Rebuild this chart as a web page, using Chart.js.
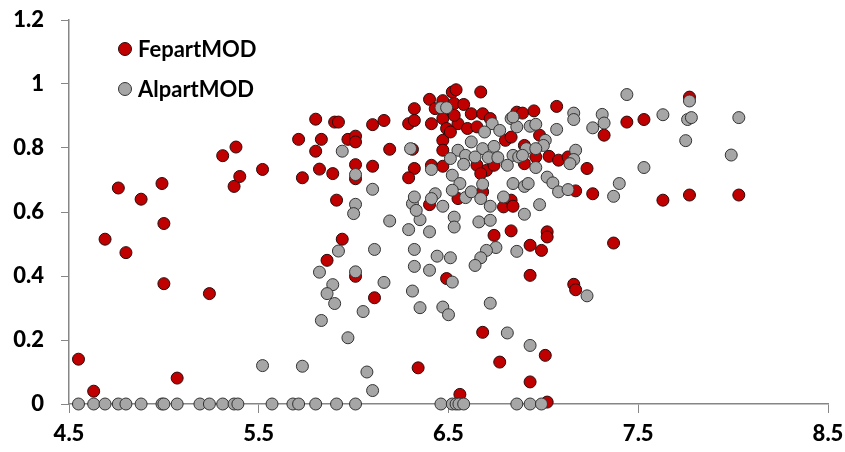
<!DOCTYPE html>
<html>
<head>
<meta charset="utf-8">
<script src="https://cdn.jsdelivr.net/npm/chart.js@4.4.0/dist/chart.umd.min.js"></script>
<style>
  html, body { margin: 0; padding: 0; background: #fff; }
  #wrap { width: 845px; height: 452px; }
</style>
</head>
<body>
<div id="wrap"><canvas id="myChart" width="845" height="452"></canvas></div>
<script>
// pH on x, partition fraction on y
var xTicks = [4.5, 5.5, 6.5, 7.5, 8.5];
var yTicks = [0, 0.2, 0.4, 0.6, 0.8, 1, 1.2];

var fePh = [
  4.55, 4.63, 4.69, 4.76, 4.80, 4.88, 4.99, 5.00, 5.00, 5.07, 5.24, 5.31, 5.38, 5.37, 5.40, 5.52,
  5.71, 5.73, 5.80, 5.80, 5.83, 5.82, 5.89, 5.90, 5.92, 5.97, 6.01, 6.01, 6.01, 6.01, 6.10, 6.16,
  6.10, 6.19, 5.91, 5.94, 6.29, 6.32, 6.32, 6.31, 6.32, 6.29, 6.40, 6.40,
  5.86, 6.01, 6.11, 6.34,
  6.52, 6.54, 6.67, 6.41, 6.43, 6.47, 6.48, 6.53, 6.58, 6.62, 6.47, 6.49, 6.55, 6.53, 6.60, 6.65,
  6.68, 6.72, 6.47, 6.51, 6.80, 6.47, 6.41, 6.47, 6.65, 6.70, 6.74, 6.86,
  6.55, 6.68, 6.79, 6.83, 6.74, 6.83, 6.49, 6.67,
  6.68, 6.77, 6.56,
  7.07, 6.89, 6.95, 6.83, 6.90, 6.98, 7.03, 7.08, 6.90, 6.96, 7.23, 7.32, 7.13,
  6.84, 7.02, 7.02, 6.93, 6.99, 7.17, 7.26, 7.37, 6.93, 7.16, 7.17,
  7.01, 6.93, 7.02,
  7.77, 7.44, 7.53, 7.63, 7.77, 8.03
];
var fePart = [
  0.14, 0.04, 0.515, 0.675, 0.473, 0.64, 0.689, 0.564, 0.376, 0.081, 0.345, 0.776, 0.803, 0.68, 0.711, 0.733,
  0.827, 0.707, 0.89, 0.79, 0.827, 0.734, 0.72, 0.881, 0.881, 0.827, 0.837, 0.819, 0.748, 0.704, 0.873, 0.886,
  0.743, 0.796, 0.637, 0.515, 0.876, 0.923, 0.886, 0.796, 0.736, 0.707, 0.952, 0.623,
  0.449, 0.399, 0.332, 0.113,
  0.975, 0.982, 0.975, 0.876, 0.923, 0.948, 0.918, 0.939, 0.936, 0.907, 0.892, 0.861, 0.876, 0.902, 0.861, 0.866,
  0.907, 0.892, 0.824, 0.85, 0.824, 0.793, 0.746, 0.743, 0.746, 0.73, 0.746, 0.912,
  0.642, 0.663, 0.616, 0.637, 0.527, 0.541, 0.392, 0.72,
  0.224, 0.131, 0.03,
  0.93, 0.909, 0.916, 0.834, 0.808, 0.84, 0.774, 0.762, 0.751, 0.772, 0.736, 0.84, 0.772,
  0.618, 0.538, 0.522, 0.496, 0.48, 0.666, 0.657, 0.503, 0.402, 0.374, 0.357,
  0.152, 0.069, 0.006,
  0.959, 0.881, 0.889, 0.637, 0.653, 0.653
];

var alPh = [
  4.55, 4.63, 4.69, 4.76, 4.80, 4.88, 4.99, 5.00, 5.07, 5.19, 5.24, 5.31, 5.37, 5.39, 5.57, 5.68,
  5.71, 5.80, 5.91, 6.01, 6.46, 6.52, 6.54, 6.555, 6.58, 6.86, 6.93, 6.99,
  5.52, 5.73, 5.94, 6.01, 6.10, 6.01, 6.00, 6.19, 6.31, 6.32, 6.35, 6.29, 6.40, 6.30,
  5.92, 5.82, 5.89, 5.86, 5.90, 5.83, 5.97, 6.01, 6.11, 6.16, 6.05, 6.32, 6.32, 6.40, 6.31, 6.35, 6.07, 6.10,
  6.46, 6.49, 6.83, 6.86, 6.73, 6.77, 6.69, 6.62, 6.55, 6.68, 6.74, 6.51, 6.59, 6.64, 6.71, 6.76,
  6.84, 6.41, 6.52, 6.58, 6.81, 6.87,
  6.56, 6.52, 6.43, 6.41, 6.47, 6.33, 6.53, 6.53, 6.59, 6.62, 6.67, 6.68, 6.72, 6.66, 6.72, 6.84,
  6.79, 6.44, 6.51, 6.75, 6.70, 6.67, 6.64, 6.86, 6.52, 6.72,
  6.47, 6.50, 6.81,
  6.84, 6.93, 6.96, 7.07, 7.16, 7.16, 7.26, 7.31, 7.32, 7.01, 7.00, 6.91, 6.89, 6.96, 7.17, 7.16,
  7.14, 6.96,
  6.90, 6.92, 7.02, 7.05, 7.08, 7.13, 6.98, 6.90, 7.37, 7.40, 7.23,
  6.93,
  7.44, 7.77, 7.63, 7.76, 7.78, 8.03, 7.75, 7.99, 7.53
];
var alPart = [
  0, 0, 0, 0, 0, 0, 0, 0, 0, 0, 0, 0, 0, 0, 0, 0,
  0, 0, 0, 0, 0, 0, 0, 0, 0, 0, 0, 0,
  0.12, 0.118, 0.79, 0.717, 0.671, 0.624, 0.595, 0.572, 0.626, 0.647, 0.576, 0.545, 0.538, 0.798,
  0.478, 0.412, 0.373, 0.345, 0.314, 0.261, 0.207, 0.413, 0.483, 0.38, 0.289, 0.483, 0.43, 0.418, 0.353, 0.301, 0.1, 0.042,
  0.926, 0.926, 0.892, 0.866, 0.876, 0.855, 0.85, 0.819, 0.793, 0.798, 0.805, 0.767, 0.777, 0.772, 0.77, 0.77,
  0.777, 0.733, 0.715, 0.749, 0.746, 0.772,
  0.689, 0.668, 0.657, 0.642, 0.618, 0.605, 0.584, 0.553, 0.645, 0.663, 0.642, 0.687, 0.618, 0.569, 0.574, 0.689,
  0.647, 0.462, 0.457, 0.489, 0.48, 0.457, 0.433, 0.477, 0.381, 0.315,
  0.303, 0.279, 0.222,
  0.897, 0.868, 0.874, 0.858, 0.909, 0.889, 0.863, 0.905, 0.878, 0.824, 0.808, 0.798, 0.777, 0.798, 0.793, 0.764,
  0.751, 0.739,
  0.68, 0.689, 0.709, 0.691, 0.663, 0.67, 0.623, 0.593, 0.649, 0.689, 0.338,
  0.183,
  0.967, 0.947, 0.904, 0.889, 0.895, 0.895, 0.823, 0.778, 0.739
];

function toPoints(xs, ys) {
  return xs.map(function (x, i) { return { x: x, y: ys[i] }; });
}

var axisColor = '#868686';
var tickFont = { family: 'Lato', size: 22, weight: 900 };

// legend drawn inside the plot, top left
var insideLegend = {
  id: 'insideLegend',
  afterDraw: function (chart) {
    var c = chart.ctx;
    var rows = [[125, 49], [125, 89]];
    chart.data.datasets.forEach(function (ds, i) {
      var p = rows[i];
      c.save();
      c.beginPath();
      c.arc(p[0], p[1], 6.5, 0, Math.PI * 2);
      c.fillStyle = ds.backgroundColor;
      c.fill();
      c.lineWidth = 1;
      c.strokeStyle = ds.borderColor;
      c.stroke();
      c.fillStyle = '#000';
      c.font = 'bold 22px Lato';
      c.textBaseline = 'middle';
      c.fillText(ds.label, p[0] + 13, p[1] + 1);
      c.restore();
    });
  }
};

var ctx = document.getElementById('myChart').getContext('2d');
var myChart = new Chart(ctx, {
  type: 'scatter',
  data: {
    datasets: [{
      label: 'FepartMOD',
      data: toPoints(fePh, fePart),
      backgroundColor: '#C00000',
      borderColor: '#2a0a0a',
      borderWidth: 1,
      pointRadius: 6,
      order: 2,
      clip: false
    }, {
      label: 'AlpartMOD',
      data: toPoints(alPh, alPart),
      backgroundColor: '#A6A6A6',
      borderColor: '#333333',
      borderWidth: 1,
      pointRadius: 6,
      order: 1,
      clip: false
    }]
  },
  options: {
    responsive: false,
    animation: false,
    layout: { padding: { top: 20, right: 17, left: 0, bottom: 0 } },
    plugins: {
      legend: { display: false },
      tooltip: { enabled: false }
    },
    scales: {
      x: {
        type: 'linear',
        min: 4.5,
        max: 8.5,
        afterBuildTicks: function (scale) {
          scale.ticks = xTicks.map(function (v) { return { value: v }; });
        },
        afterFit: function (scale) {
          scale.height = 48;
          scale.paddingLeft = 0;
          scale.paddingRight = 0;
        },
        grid: { drawOnChartArea: false, drawTicks: true, tickLength: 9, color: axisColor },
        border: { color: axisColor, width: 1.5 },
        ticks: { color: '#000', font: tickFont, padding: 8, maxRotation: 0 }
      },
      y: {
        min: 0,
        max: 1.2,
        afterBuildTicks: function (scale) {
          scale.ticks = yTicks.map(function (v) { return { value: v }; });
        },
        afterFit: function (scale) {
          scale.width = 69;
          scale.paddingTop = 0;
          scale.paddingBottom = 0;
        },
        grid: { drawOnChartArea: false, drawTicks: true, tickLength: 8, color: axisColor },
        border: { color: axisColor, width: 1.5 },
        ticks: {
          color: '#000',
          font: tickFont,
          padding: 17,
          callback: function (v) { return String(Math.round(v * 10) / 10); }
        }
      }
    }
  },
  plugins: [insideLegend]
});
</script>
</body>
</html>
